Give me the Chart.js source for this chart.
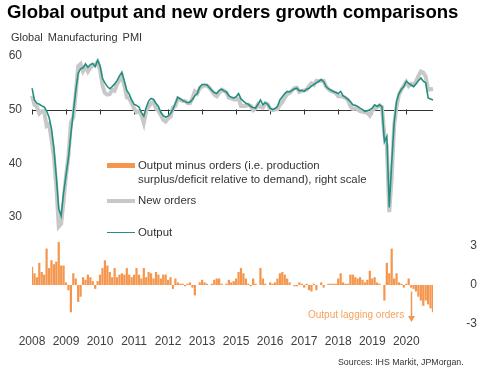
<!DOCTYPE html>
<html><head><meta charset="utf-8">
<script src="https://cdn.jsdelivr.net/npm/chart.js@4.4.1/dist/chart.umd.min.js"></script>
<style>
html,body{margin:0;padding:0;background:#fff;}
#wrap{position:relative;width:477px;height:373px;overflow:hidden;font-family:"Liberation Sans",Arial,sans-serif;}
#c{position:absolute;left:0;top:0;}
.t{position:absolute;white-space:nowrap;line-height:1;color:#333;}
.sw{position:absolute;}
</style></head><body>
<div id="wrap">
<canvas id="c" width="477" height="373"></canvas>
<div class="t" style="left:7px;top:2.5px;font-size:18.6px;font-weight:bold;color:#000;">Global output and new orders growth comparisons</div>
<div class="t" style="left:11px;top:31.5px;font-size:11px;word-spacing:2px;">Global Manufacturing PMI</div>
<div class="sw" style="left:107px;top:163px;width:28px;height:5px;background:#F5964F;"></div>
<div class="t" style="left:138px;top:160.3px;font-size:11.4px;">Output minus orders (i.e. production</div>
<div class="t" style="left:138px;top:174.3px;font-size:11.4px;">surplus/deficit relative to demand), right scale</div>
<div class="sw" style="left:107px;top:198.5px;width:28px;height:4px;background:#C8C8C8;"></div>
<div class="t" style="left:138px;top:194.5px;font-size:11.4px;">New orders</div>
<div class="sw" style="left:107px;top:231.5px;width:28px;height:1.6px;background:#229080;"></div>
<div class="t" style="left:138px;top:226.5px;font-size:11.4px;">Output</div>
<div class="t" style="left:308px;top:310px;font-size:10px;color:#F5A35C;">Output lagging orders</div>
<div class="t" style="left:338px;top:357.6px;font-size:8.8px;">Sources: IHS Markit, JPMorgan.</div>
</div>
<script>
const startYear = 2008;
const monthNames = ['Jan','Feb','Mar','Apr','May','Jun','Jul','Aug','Sep','Oct','Nov','Dec'];
const tickEvery = 14;
const leftTicks = [30, 40, 50, 60];
const rightTicks = [-3, 0, 3];
const refLevel = 50;

const output = [
54.0,51.8,51.2,51.0,50.7,50.5,49.8,48.6,46.5,42.8,37.5,31.5,
30.2,34.5,37.8,41.0,45.5,49.5,53.5,56.8,57.6,57.8,58.5,57.9,
58.4,58.6,58.0,59.2,58.2,55.8,55.0,54.3,53.9,54.3,54.8,55.4,
56.3,57.0,55.3,53.6,52.9,51.8,51.0,50.8,50.5,49.5,48.8,50.4,
51.6,52.1,51.9,51.2,50.6,49.5,48.9,48.6,48.8,49.3,50.1,51.2,
52.3,52.0,51.7,51.5,51.3,51.4,51.9,52.6,53.0,54.2,54.7,54.7,
54.6,54.1,53.6,53.2,53.0,53.6,53.8,53.5,53.3,52.6,52.3,52.2,
52.4,53.0,52.0,51.6,51.2,51.0,50.6,50.4,50.3,51.0,51.8,50.9,
51.3,51.0,50.3,50.0,50.2,50.6,51.8,52.4,53.0,53.4,53.3,53.6,
53.9,54.0,53.5,53.6,53.4,53.8,54.0,54.4,54.7,55.0,55.3,55.6,
55.2,54.3,53.9,53.6,53.4,53.2,53.0,53.4,52.6,52.3,51.9,51.5,
50.9,50.8,50.6,50.3,50.0,49.7,49.8,50.0,50.3,50.9,50.6,50.9,
50.5,44.0,45.0,31.8,40.0,47.5,51.5,53.0,53.8,54.3,55.3,54.9,
54.6,54.3,54.8,55.4,55.9,55.3,55.0,52.2,52.0,51.8
];
const newOrders = [
52.6,50.9,50.6,49.3,49.7,49.7,47.0,47.3,44.6,41.2,35.7,28.2,
28.7,33.0,37.6,41.4,47.6,48.6,53.0,58.1,58.5,57.2,58.1,57.1,
57.8,58.3,58.3,58.9,57.4,54.5,53.1,52.8,52.9,53.7,53.5,54.8,
55.5,56.1,54.5,52.3,52.1,51.2,50.2,49.5,49.7,49.0,47.5,49.8,
50.6,51.2,51.4,50.2,49.8,49.0,48.1,47.8,48.4,48.7,50.4,50.7,
52.1,51.9,51.6,51.6,51.2,51.2,52.1,53.4,53.0,54.0,54.3,54.5,
54.5,54.1,53.5,52.8,52.5,53.1,53.7,53.5,53.2,52.2,52.1,51.9,
51.9,52.0,50.7,50.7,50.7,50.9,50.7,49.9,50.2,51.0,50.5,50.4,
51.2,51.0,50.1,49.9,50.0,50.1,50.9,51.4,52.2,52.9,53.1,53.6,
54.0,54.1,53.3,53.5,53.6,53.7,54.4,54.9,54.6,55.4,55.3,55.4,
55.4,54.3,53.8,53.5,53.3,53.1,52.5,52.5,52.4,52.2,51.8,50.7,
50.1,50.2,50.1,49.7,49.6,49.5,49.4,48.9,49.8,50.3,50.4,50.8,
50.5,45.2,43.3,30.9,37.2,47.0,50.6,52.8,53.7,54.5,55.2,54.4,
54.8,54.6,55.3,56.3,57.1,56.9,56.2,53.7,53.8,53.9
];
const outputMinusOrders = [
1.4,0.9,0.6,1.7,1.0,0.8,2.8,1.3,1.9,1.6,1.8,3.3,
1.5,1.5,0.2,-0.4,-2.1,0.9,0.5,-1.3,-0.9,0.6,0.4,0.8,
0.6,0.3,-0.3,0.3,0.8,1.3,1.9,1.5,1.0,0.6,1.3,0.6,
0.8,0.9,0.8,1.3,0.8,0.6,0.8,1.3,0.8,0.5,1.3,0.6,
1.0,0.9,0.5,1.0,0.8,0.5,0.8,0.8,0.4,0.6,-0.3,0.5,
0.2,0.1,0.1,-0.1,0.1,0.2,-0.2,-0.8,0.0,0.2,0.4,0.2,
0.1,0.0,0.1,0.4,0.5,0.5,0.1,0.0,0.1,0.4,0.2,0.3,
0.5,1.0,1.3,0.9,0.5,0.1,-0.1,0.5,0.1,0.0,1.3,0.5,
0.1,0.0,0.2,0.1,0.2,0.5,0.9,1.0,0.8,0.5,0.2,0.0,
-0.1,-0.1,0.2,0.1,-0.2,0.1,-0.4,-0.5,0.1,-0.4,0.0,0.2,
-0.2,0.0,0.1,0.1,0.1,0.1,0.5,0.9,0.2,0.1,0.1,0.8,
0.8,0.6,0.5,0.6,0.4,0.2,0.4,1.1,0.5,0.6,0.2,0.1,
0.0,-1.2,1.7,0.9,2.8,0.5,0.9,0.2,0.1,-0.2,0.1,0.5,
-0.2,-0.3,-0.5,-0.9,-1.2,-1.6,-1.2,-1.5,-1.8,-2.1
];

const months = output.map((_, k) => monthNames[k % 12] + ' ' + (startYear + Math.floor(k / 12)));

const ORANGE = '#F5964F';
const TEAL = '#229080';
const GREY = '#C8C8C8';
const FONT = '"Liberation Sans", Arial, sans-serif';
const arrowIndex = 156, arrowFrom = -0.5, arrowTo = -2.85;

Chart.defaults.font.family = FONT;

const refLinePlugin = {
  id: 'refLine',
  beforeDatasetsDraw(c) {
    const {ctx, chartArea: a, scales: {x, y}} = c;
    const py = Math.round(y.getPixelForValue(refLevel)) + 0.5;
    ctx.save();
    ctx.strokeStyle = '#333';
    ctx.lineWidth = 1;
    ctx.beginPath();
    ctx.moveTo(a.left, py); ctx.lineTo(a.right, py);
    x.ticks.forEach(t => {
      const px = Math.round(x.getPixelForValue(t.value)) + 0.5;
      ctx.moveTo(px, py - 1); ctx.lineTo(px, py + 4);
    });
    ctx.stroke();
    ctx.restore();
  }
};
const arrowPlugin = {
  id: 'arrow',
  afterDatasetsDraw(c) {
    const {ctx, scales: {x, y2}} = c;
    const px = Math.round(x.getPixelForValue(arrowIndex)) + 0.5;
    const top = y2.getPixelForValue(arrowFrom);
    const bot = y2.getPixelForValue(arrowTo);
    ctx.save();
    ctx.strokeStyle = ORANGE; ctx.fillStyle = ORANGE; ctx.lineWidth = 1.5;
    ctx.beginPath(); ctx.moveTo(px, top); ctx.lineTo(px, bot - 5); ctx.stroke();
    ctx.beginPath(); ctx.moveTo(px - 3.5, bot - 6); ctx.lineTo(px + 3.5, bot - 6); ctx.lineTo(px, bot); ctx.closePath(); ctx.fill();
    ctx.restore();
  }
};

new Chart(document.getElementById('c'), {
  type: 'line',
  data: {
    labels: months,
    datasets: [
      {type: 'line', label: 'Output', data: output, borderColor: TEAL, borderWidth: 1.6, pointRadius: 0, tension: 0, yAxisID: 'y', order: 1},
      {type: 'line', label: 'New orders', data: newOrders, borderColor: GREY, borderWidth: 4, pointRadius: 0, tension: 0, yAxisID: 'y', order: 2},
      {type: 'bar', label: 'Output minus orders', data: outputMinusOrders, backgroundColor: ORANGE, borderWidth: 0, barPercentage: 0.92, categoryPercentage: 1, yAxisID: 'y2', order: 3}
    ]
  },
  options: {
    responsive: false, animation: false, devicePixelRatio: 1,
    layout: {padding: {top: 50, left: 0, right: 0, bottom: 0}},
    plugins: {legend: {display: false}, tooltip: {enabled: false}, title: {display: false}},
    scales: {
      x: {
        type: 'category', offset: false,
        grid: {display: false, drawTicks: false}, border: {display: false},
        ticks: {autoSkip: false, maxRotation: 0, minRotation: 0, padding: 4, color: '#404040', font: {size: 12},
          callback: (v) => months[v].slice(-4)},
        afterBuildTicks: (s) => { s.ticks = s.ticks.filter(t => t.value % tickEvery === 0); },
        afterFit: (s) => { s.height = 43; }
      },
      y: {
        position: 'left', min: 8.944, max: 61.118,
        grid: {display: false, drawTicks: false}, border: {display: false},
        ticks: {padding: 10, color: '#404040', font: {size: 12}},
        afterBuildTicks: (s) => { s.ticks = leftTicks.map(v => ({value: v})); },
        afterFit: (s) => { s.width = 32; }
      },
      y2: {
        position: 'right', min: -3.4615, max: 18.077,
        grid: {display: false, drawTicks: false}, border: {display: false},
        ticks: {padding: 7, crossAlign: 'far', color: '#404040', font: {size: 12}},
        afterBuildTicks: (s) => { s.ticks = rightTicks.map(v => ({value: v})); },
        afterFit: (s) => { s.width = 44; }
      }
    }
  },
  plugins: [refLinePlugin, arrowPlugin]
});
</script>
</body></html>
